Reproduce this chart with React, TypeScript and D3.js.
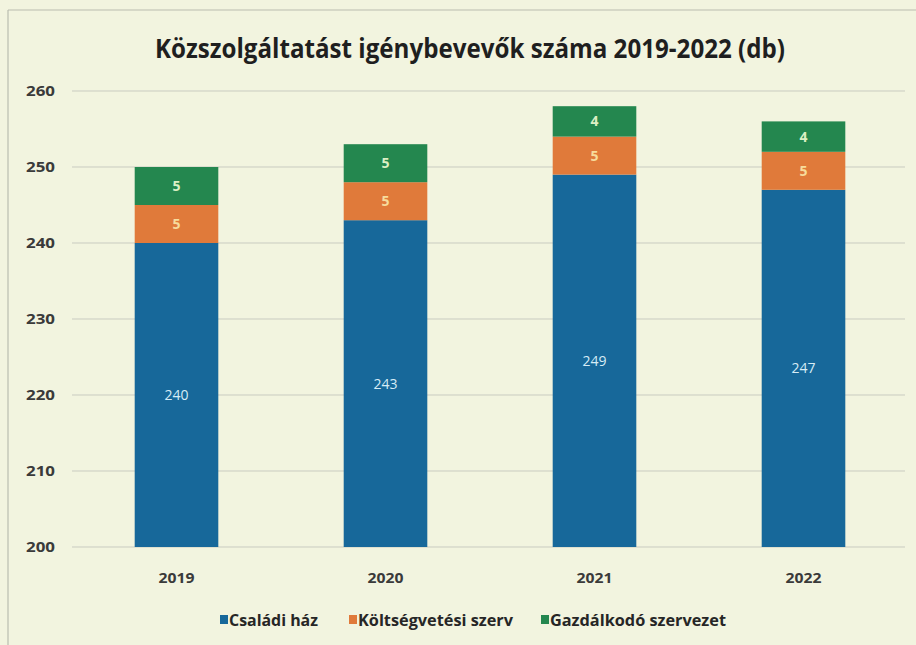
import React from "react";
import * as d3 from "d3";

const years = ["2019", "2020", "2021", "2022"];
const csaladiHaz = [240, 243, 249, 247];
const koltsegvetesi = [5, 5, 5, 5];
const gazdalkodo = [5, 5, 4, 4];
const seriesNames = ["Családi ház", "Költségvetési szerv", "Gazdálkodó szervezet"];
const yTicks = [200, 210, 220, 230, 240, 250, 260];
const title = "Közszolgáltatást igénybevevők száma 2019-2022 (db)";

const colors = ["#17689a", "#e07a3a", "#24874f"];
const labelColors = ["#d6ecf6", "#f7dc9c", "#dcefc4"];

export default function App() {
  const W = 916, H = 645;
  const x = d3.scaleBand().domain(years).range([72, 908]).paddingInner(0.6).paddingOuter(0.3);
  const y = d3.scaleLinear().domain([200, 260]).range([547, 91]);
  const data = years.map((yr, i) => ({
    year: yr,
    vals: [csaladiHaz[i], koltsegvetesi[i], gazdalkodo[i]],
  }));
  const stack = d3.stack<any>().keys(["0", "1", "2"]).value((d: any, k: string) => d.vals[+k]);
  const stacked = stack(data);
  const font = "'Open Sans', 'Noto Sans', sans-serif";
  const legendX = [220, 349, 541];
  const legendLen = [89, 155, 176];

  return (
    <svg width={W} height={H} style={{ position: "absolute", left: 0, top: 0, display: "block" }}>
      <rect x={0} y={0} width={W} height={H} fill="#f2f4df" />
      <line x1={8} x2={W} y1={10} y2={10} stroke="#b9bcb0" strokeWidth={1.2} />
      <line x1={8} x2={8} y1={10} y2={H} stroke="#b9bcb0" strokeWidth={1.2} />
      <text x={470} y={58} textAnchor="middle" fontFamily={font} fontWeight={700}
        fontSize={26} fill="#1f1f1f" textLength={630} lengthAdjust="spacingAndGlyphs">{title}</text>
      {yTicks.map((t) => (
        <g key={t}>
          <line x1={72} x2={905} y1={y(t)} y2={y(t)} stroke="#c9cbc0" strokeWidth={1} />
          <text x={55} y={y(t) + 5} textAnchor="end" fontFamily={font} fontWeight={700}
            fontSize={15} fill="#3a3a3a" textLength={29} lengthAdjust="spacingAndGlyphs">{t}</text>
        </g>
      ))}
      {stacked.map((s: any, si: number) => (
        <g key={si}>
          {s.map((d: any, i: number) => {
            const y0 = y(Math.max(d[0], 200));
            const y1 = y(d[1]);
            const bx = x(years[i])!;
            return (
              <g key={i}>
                <rect x={bx} y={y1} width={x.bandwidth()} height={y0 - y1} fill={colors[si]} />
                <text x={bx + x.bandwidth() / 2} y={(y0 + y1) / 2 + 5} textAnchor="middle"
                  fontFamily={font} fontWeight={si === 0 ? 500 : 700} fontSize={14}
                  fill={labelColors[si]}>{d[1] - d[0]}</text>
              </g>
            );
          })}
        </g>
      ))}
      {years.map((yr) => (
        <text key={yr} x={x(yr)! + x.bandwidth() / 2} y={583} textAnchor="middle"
          fontFamily={font} fontWeight={700} fontSize={15} fill="#3a3a3a"
          textLength={36} lengthAdjust="spacingAndGlyphs">{yr}</text>
      ))}
      {seriesNames.map((n, i) => {
        const lx = legendX[i];
        return (
          <g key={n}>
            <rect x={lx} y={615} width={8} height={9} fill={colors[i]} />
            <text x={lx + 9} y={626} fontFamily={font} fontWeight={700} fontSize={16}
              fill="#262626" textLength={legendLen[i]} lengthAdjust="spacingAndGlyphs">{n}</text>
          </g>
        );
      })}
    </svg>
  );
}
